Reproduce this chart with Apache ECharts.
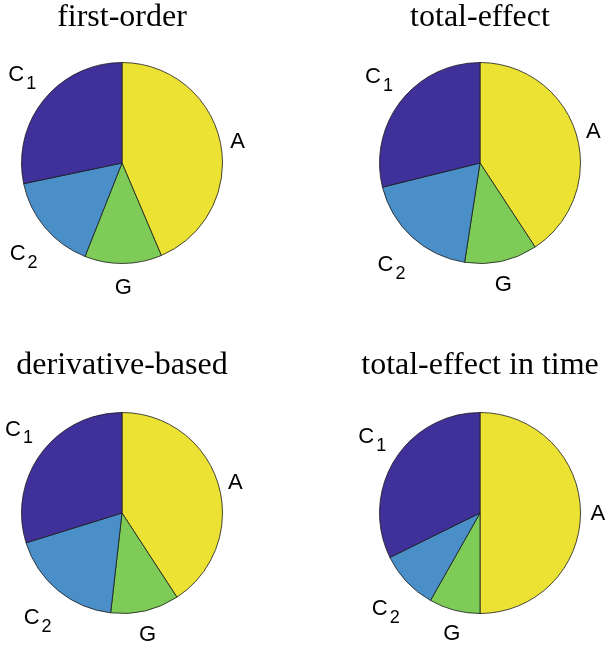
<!DOCTYPE html>
<html>
<head>
<meta charset="utf-8">
<script src="https://cdn.jsdelivr.net/npm/echarts@6/dist/echarts.min.js"></script>
<style>
html,body{margin:0;padding:0;background:#fff;}
#chart{width:607px;height:649px;}
</style>
</head>
<body>
<div id="chart"></div>
<script>
// Categories (clockwise from 12 o'clock)
var sliceOrder = ['A', 'G', 'C2', 'C1'];
// Shares (%), in sliceOrder
var firstOrder = [43.6, 12.4, 15.7, 28.3];
var totalEffect = [40.8, 11.7, 18.7, 28.9];
var derivativeBased = [40.8, 11.0, 18.4, 29.8];
var totalEffectInTime = [50.0, 8.2, 9.5, 32.3];
var titles = ['first-order', 'total-effect', 'derivative-based', 'total-effect in time'];

var colors = {A: '#EBE234', G: '#7ECC57', C2: '#4A8FC8', C1: '#3F309A'};

var centers = [[122, 163], [480, 163], [122, 513], [480, 513]];
var radius = 100.5;
var titleTops = [2, 2, 350, 350];

function labelText(name) {
  if (name.length > 1) return '{m|' + name.charAt(0) + '}{s|' + name.slice(1) + '}';
  return '{m|' + name + '}';
}

function makeSeries(values, idx) {
  var total = values.reduce(function (a, b) { return a + b; }, 0);
  var mids = [];
  var acc = 0;
  values.forEach(function (v) { mids.push((acc + v / 2) / total * 2 * Math.PI); acc += v; });
  return {
    type: 'pie',
    center: centers[idx],
    radius: radius,
    startAngle: 90,
    clockwise: true,
    avoidLabelOverlap: false,
    animation: false,
    silent: true,
    itemStyle: {borderColor: '#1a1a1a', borderWidth: 0.8},
    label: {
      show: true,
      position: 'outside',
      distanceToLabelLine: 0,
      formatter: function (p) { return labelText(p.name); },
      color: '#000',
      rich: {
        m: {fontFamily: 'Liberation Sans', fontSize: 22, lineHeight: 24, verticalAlign: 'top', color: '#000'},
        s: {fontFamily: 'Liberation Sans', fontSize: 18, lineHeight: 18, padding: [16, 0, 0, 2], color: '#000'}
      }
    },
    labelLine: {show: false, length: 10, length2: 0},
    labelLayout: function (p) {
      var a = mids[p.dataIndex];
      var s = Math.sin(a), c = -Math.cos(a);
      var dx = 0, dy = 2;
      if (Math.abs(s) < 0.45) dx = (s >= 0 ? -1 : 1) * p.labelRect.width / 2;
      if (Math.abs(c) > 0.45) dy = c > 0 ? (p.labelRect.height / 2 + 4) : -(p.labelRect.height / 2);
      return {dx: dx, dy: dy};
    },
    data: sliceOrder.map(function (n, i) {
      return {name: n, value: values[i], itemStyle: {color: colors[n]}};
    })
  };
}

var allValues = [firstOrder, totalEffect, derivativeBased, totalEffectInTime];

var option = {
  backgroundColor: '#fff',
  title: titles.map(function (t, i) {
    return {
      text: t,
      left: centers[i][0],
      top: titleTops[i],
      textAlign: 'center',
      padding: 0,
      textStyle: {fontFamily: 'Liberation Serif', fontSize: 32, fontWeight: 'normal', color: '#000'}
    };
  }),
  series: allValues.map(makeSeries)
};

var chart = echarts.init(document.getElementById('chart'), null, {renderer: 'canvas'});
chart.setOption(option);
</script>
</body>
</html>
